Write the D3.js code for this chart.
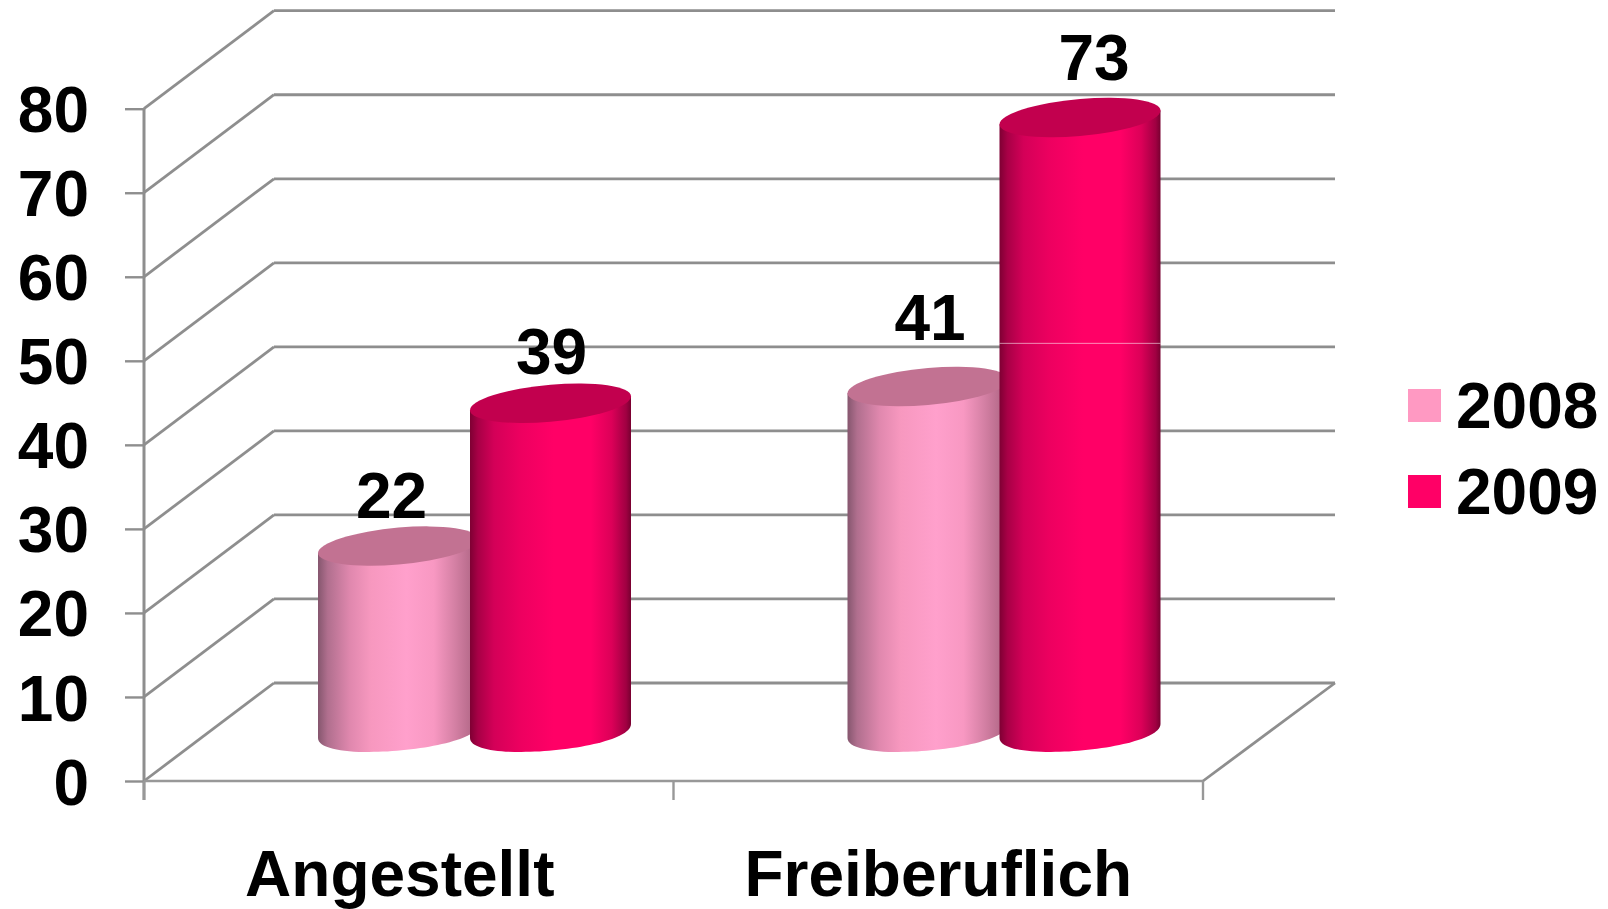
<!DOCTYPE html>
<html>
<head>
<meta charset="utf-8">
<script src="https://cdn.jsdelivr.net/npm/d3@7"></script>
<style>
    html, body { margin: 0; padding: 0; background: #fff; overflow: hidden; }
    text { font-family: "Liberation Sans", Arial, sans-serif; font-weight: bold; fill: #000; }
</style>
</head>
<body>
<div id="canvas"></div>
<script>
"use strict";

/* -------------------- Data -------------------- */

let categories = ["Angestellt", "Freiberuflich"];
let seriesNames = ["2008", "2009"];
let values2008 = [22, 41];
let values2009 = [39, 73];
let yTicks = [0, 10, 20, 30, 40, 50, 60, 70, 80];

/* -------------------- Layout -------------------- */

let svgWidth = 1608;
let svgHeight = 909;
let fontSize = 64;
let gridColor = "#8e8e8e";

let depthX = 130;      // shift of the back wall
let depthY = 98;
let rightDepthX = 132;
let barDepthY = 50;    // bars stand part way into the floor
let barRx = 80.5;
let barRy = 18.5;
let barShear = -4.9;   // the ellipses lean a bit

/* hand nudges for labels, the original has them off-centre */
let categoryNudge = [-9, 0];
let labelNudgeX = [[-7, 1], [2, 14]];
let labelNudgeY = [[-28, -29], [-46, -38]];

let svg = d3.select("#canvas")
    .append("svg")
    .attr("width", svgWidth)
    .attr("height", svgHeight)
    .style("display", "block");

/* -------------------- Scales -------------------- */

let xScale = d3.scaleBand()
    .domain(categories)
    .range([144, 1203]);

let seriesScale = d3.scaleBand()
    .domain(seriesNames)
    .range([178.5, 482.5]);

let yScale = d3.scaleLinear()
    .domain([0, 80])
    .range([781, 108.7]);

/* -------------------- Gradients -------------------- */

let defs = svg.append("defs");

let pinkStops = [
    [0, "#85566e"], [0.06, "#b06f8e"], [0.2, "#e088ae"], [0.33, "#f798bf"],
    [0.55, "#ffa0cc"], [0.72, "#f898c2"], [0.85, "#d480a4"], [1, "#a8607e"]
];
let redStops = [
    [0, "#7e0033"], [0.05, "#a80046"], [0.15, "#d40058"], [0.32, "#ee0060"],
    [0.52, "#ff0066"], [0.75, "#ff0066"], [0.88, "#dc0058"], [0.97, "#a00042"], [1, "#780030"]
];

function addGradient(id, stops) {
    let grad = defs.append("linearGradient")
        .attr("id", id)
        .attr("x1", "0%")
        .attr("x2", "100%")
        .attr("y1", "0%")
        .attr("y2", "0%");
    grad.selectAll("stop")
        .data(stops)
        .join("stop")
        .attr("offset", function (d) { return d[0]; })
        .attr("stop-color", function (d) { return d[1]; });
}

addGradient("grad2008", pinkStops);
addGradient("grad2009", redStops);

/* -------------------- Walls and grid -------------------- */

let wall = svg.append("g")
    .attr("fill", "none")
    .attr("stroke", gridColor)
    .attr("stroke-width", 2.8);

/* back wall lines */
wall.selectAll("line.back")
    .data(yTicks)
    .join("line")
    .attr("class", "back")
    .attr("x1", xScale.range()[0] + depthX)
    .attr("x2", xScale.range()[1] + rightDepthX)
    .attr("y1", function (d) { return yScale(d) - depthY; })
    .attr("y2", function (d) { return yScale(d) - depthY; });

/* side wall diagonals */
wall.selectAll("line.side")
    .data(yTicks)
    .join("line")
    .attr("class", "side")
    .attr("x1", xScale.range()[0])
    .attr("x2", xScale.range()[0] + depthX)
    .attr("y1", function (d) { return yScale(d); })
    .attr("y2", function (d) { return yScale(d) - depthY; });

/* floor edge on the right */
wall.append("line")
    .attr("x1", xScale.range()[1])
    .attr("x2", xScale.range()[1] + rightDepthX)
    .attr("y1", yScale(0))
    .attr("y2", yScale(0) - depthY);

/* -------------------- Axes -------------------- */

let yAxis = svg.append("g")
    .attr("transform", "translate(" + xScale.range()[0] + ",0)")
    .call(d3.axisLeft(yScale).tickValues(yTicks).tickSize(19).tickPadding(36).tickFormat(d3.format("d")));

yAxis.select(".domain")
    .attr("stroke", gridColor)
    .attr("stroke-width", 3)
    .attr("d", "M0," + yScale(80) + "V" + (yScale(0) + 19));

yAxis.selectAll(".tick line")
    .attr("stroke", gridColor)
    .attr("stroke-width", 2.4);

yAxis.selectAll(".tick text")
    .attr("font-size", fontSize)
    .attr("font-family", "Liberation Sans")
    .attr("font-weight", "bold")
    .attr("fill", "#000")
    .attr("dy", "0.36em");

/* bottom axis, ticks sit on the band edges */
let xEdges = categories.map(function (c) { return xScale(c); }).concat(xScale.range()[1]);

svg.append("line")
    .attr("x1", xScale.range()[0])
    .attr("x2", xScale.range()[1])
    .attr("y1", yScale(0))
    .attr("y2", yScale(0))
    .attr("stroke", "#989898")
    .attr("stroke-width", 2.6);

svg.selectAll("line.xtick")
    .data(xEdges)
    .join("line")
    .attr("class", "xtick")
    .attr("x1", function (d) { return d; })
    .attr("x2", function (d) { return d; })
    .attr("y1", yScale(0))
    .attr("y2", yScale(0) + 19)
    .attr("stroke", "#989898")
    .attr("stroke-width", 2.4);

svg.selectAll("text.category")
    .data(categories)
    .join("text")
    .attr("class", "category")
    .attr("x", function (d, i) { return xScale(d) + xScale.bandwidth() / 2 + categoryNudge[i]; })
    .attr("y", 896)
    .attr("text-anchor", "middle")
    .attr("font-size", fontSize)
    .text(function (d) { return d; });

/* -------------------- Cylinders -------------------- */

function drawCylinder(catIndex, seriesIndex, value) {
    let cx = xScale(categories[catIndex]) + seriesScale(seriesNames[seriesIndex]) + seriesScale.bandwidth() / 2;
    let yBase = yScale(0) - barDepthY;
    let yTop = yScale(value) - barDepthY;
    let id = seriesNames[seriesIndex];

    // skew around the cylinder axis, x stays put so the gradient is not bent
    let g = svg.append("g")
        .attr("transform", "translate(" + cx + ",0) skewY(" + barShear + ")");

    let path = d3.path();
    path.moveTo(-barRx, yTop);
    path.lineTo(-barRx, yBase);
    path.bezierCurveTo(-barRx, yBase + barRy * 1.42, barRx, yBase + barRy * 1.42, barRx, yBase);
    path.lineTo(barRx, yTop);
    path.closePath();

    g.append("path")
        .attr("d", path.toString())
        .attr("fill", "url(#grad" + id + ")");

    g.append("ellipse")
        .attr("cx", 0)
        .attr("cy", yTop)
        .attr("rx", barRx)
        .attr("ry", barRy)
        .attr("fill", seriesIndex === 0 ? "#c27292" : "#c2004e");
}

categories.forEach(function (c, i) {
    drawCylinder(i, 0, values2008[i]);
    drawCylinder(i, 1, values2009[i]);
});

/* faint line across the tall bar, it is in the original too */
svg.append("line")
    .attr("x1", xScale(categories[1]) + seriesScale(seriesNames[1]) + seriesScale.bandwidth() / 2 - barRx)
    .attr("x2", xScale(categories[1]) + seriesScale(seriesNames[1]) + seriesScale.bandwidth() / 2 + barRx)
    .attr("y1", yScale(40) - depthY - 3.5)
    .attr("y2", yScale(40) - depthY - 3.5)
    .attr("stroke", "#ffffff")
    .attr("stroke-opacity", 0.55)
    .attr("stroke-width", 1);

/* -------------------- Value labels -------------------- */

[values2008, values2009].forEach(function (vals, s) {
    svg.selectAll("text.val" + s)
        .data(vals)
        .join("text")
        .attr("class", "val" + s)
        .attr("x", function (d, i) {
            return xScale(categories[i]) + seriesScale(seriesNames[s]) + seriesScale.bandwidth() / 2 + labelNudgeX[i][s];
        })
        .attr("y", function (d, i) { return yScale(d) - barDepthY + labelNudgeY[i][s]; })
        .attr("text-anchor", "middle")
        .attr("font-size", fontSize)
        .text(function (d) { return d; });
});

/* -------------------- Legend -------------------- */

let legendColors = ["#ff99c2", "#ff0066"];

let legendY = d3.scaleBand()
    .domain(seriesNames)
    .range([389, 561]);

svg.selectAll("rect.key")
    .data(seriesNames)
    .join("rect")
    .attr("class", "key")
    .attr("x", 1408)
    .attr("y", function (d) { return legendY(d); })
    .attr("width", 33)
    .attr("height", 33)
    .attr("fill", function (d, i) { return legendColors[i]; });

svg.selectAll("text.key")
    .data(seriesNames)
    .join("text")
    .attr("class", "key")
    .attr("x", 1456)
    .attr("y", function (d) { return legendY(d) + 39; })
    .attr("font-size", fontSize)
    .text(function (d) { return d; });
</script>
</body>
</html>
